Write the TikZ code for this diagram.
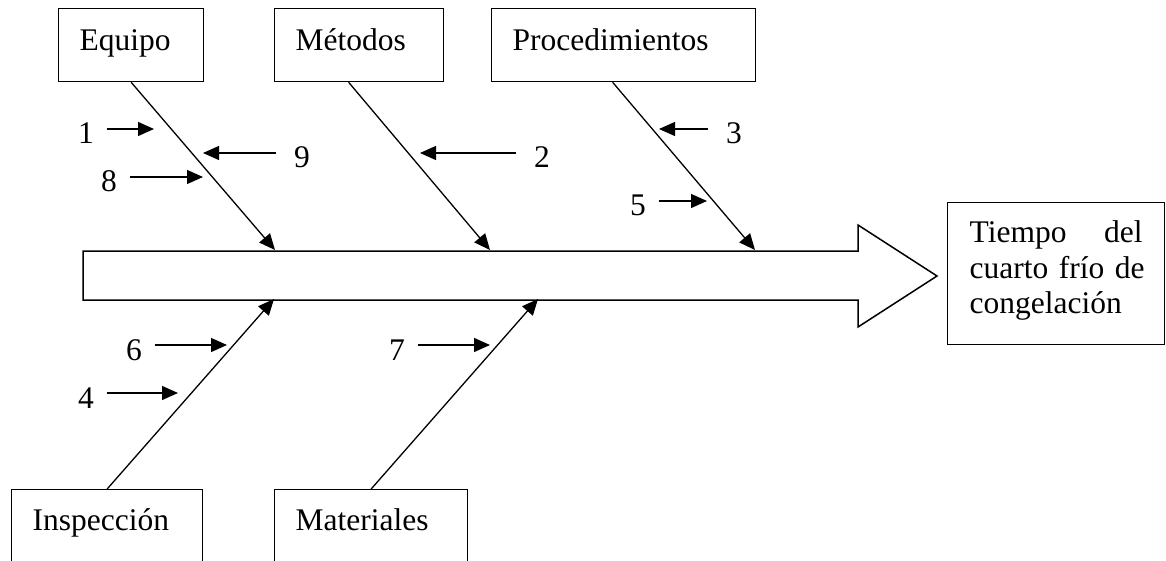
\documentclass[tikz,border=0pt]{standalone}
\usepackage{fontspec}
\setmainfont{Liberation Serif}
\usetikzlibrary{arrows.meta}
\begin{document}
\begin{tikzpicture}[x=1pt,y=-1pt,
  every node/.style={font=\fontsize{31.5}{35.5}\selectfont},
  cause/.style={draw,line width=1.3pt,anchor=north west,inner xsep=21pt,inner ysep=0pt,align=left},
  num/.style={inner sep=0pt,text height=30pt,text depth=0pt,anchor=base},
  arr/.style={line width=1.3pt,-{Triangle[length=16pt,width=14pt]}},
  rgap/.style={arr,shorten <=12.5pt},
  lgap/.style={arr,shorten <=18pt}]
\useasboundingbox (0,0) rectangle (1166,561);
% cause boxes
\node[cause,text width=103pt,text height=42pt,text depth=31pt] (eq) at (58,8) {Equipo};
\node[cause,text width=127pt,text height=42pt,text depth=31pt] (met) at (274,8) {Métodos};
\node[cause,text width=222pt,text height=42pt,text depth=31pt] (proc) at (491,8) {Procedimientos};
\node[cause,text width=149pt,text height=41pt,text depth=35pt] (ins) at (11,489) {Inspección};
\node[cause,text width=151pt,text height=41pt,text depth=35pt] (mat) at (274,489) {Materiales};
% effect box
\node[draw,line width=1.3pt,anchor=north west,inner xsep=22pt,inner ysep=0pt,
      text width=173pt,align=left,text height=40pt,text depth=102pt] (ef) at (947,202)
  {\makebox[173pt][s]{Tiempo\hfill del}\\\mbox{cuarto frío de}\\\mbox{congelación}};
% spine arrow
\draw[line width=1.5pt,line join=miter] (83,251) -- (858,251) -- (858,225) -- (937,276)
  -- (858,327) -- (858,300) -- (83,300) -- cycle;
% tips on the spine
\coordinate (tE) at (275,250);
\coordinate (tM) at (490,250);
\coordinate (tP) at (755,250);
\coordinate (tI) at (274,299);
\coordinate (tMa) at (538,299);
% bones
\draw[arr] (eq.south) -- (tE);
\draw[arr] (met.south) ++(-10.5,0) -- (tM);
\draw[arr] (proc.south) ++(-11,0) -- (tP);
\draw[arr] (ins.north) -- (tI);
\draw[arr] (mat.north) -- (tMa);
% numbered sub-causes
\coordinate (c1) at (154,129);
\coordinate (c9) at (203,153);
\coordinate (c8) at (203,177);
\coordinate (c2) at (420,153);
\coordinate (c3) at (659,129);
\coordinate (c5) at (707,201);
\coordinate (c6) at (227,345);
\coordinate (c4) at (178,393);
\coordinate (c7) at (490,345);
\node[num] (n1) at (86,144) {1};
\node[num] (n9) at (302,168) {9};
\node[num] (n8) at (109,192) {8};
\node[num] (n2) at (542,168) {2};
\node[num] (n3) at (734,144) {3};
\node[num] (n5) at (638,216) {5};
\node[num] (n6) at (134,360) {6};
\node[num] (n4) at (86,408) {4};
\node[num] (n7) at (397,360) {7};
\draw[rgap] (n1) -- (c1);
\draw[lgap] (n9) -- (c9);
\draw[rgap] (n8) -- (c8);
\draw[lgap] (n2) -- (c2);
\draw[lgap] (n3) -- (c3);
\draw[rgap] (n5) -- (c5);
\draw[rgap] (n6) -- (c6);
\draw[rgap] (n4) -- (c4);
\draw[rgap] (n7) -- (c7);
\end{tikzpicture}
\end{document}
